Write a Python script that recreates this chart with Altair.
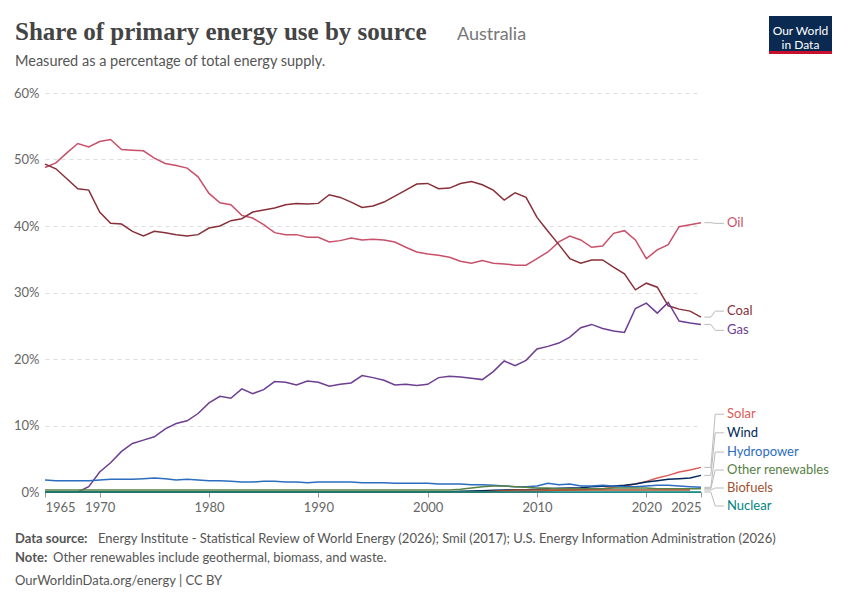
import altair as alt
import pandas as pd

years = list(range(1965, 2026))

oil = [48.8, 49.5, 51.0, 52.4, 51.9, 52.7, 53.0, 51.5, 51.4, 51.3, 50.2, 49.4, 49.1, 48.7, 47.4,
       44.9, 43.5, 43.2, 41.6, 41.2, 40.2, 39.0, 38.7, 38.7, 38.3, 38.3, 37.6, 37.8, 38.2, 37.9,
       38.0, 37.9, 37.6, 36.8, 36.1, 35.8, 35.6, 35.3, 34.7, 34.4, 34.8, 34.4, 34.3, 34.1, 34.1,
       35.1, 36.1, 37.6, 38.5, 37.9, 36.8, 37.0, 38.9, 39.3, 37.9, 35.1, 36.4, 37.2, 39.9, 40.2, 40.5]
coal = [49.3, 48.6, 47.1, 45.6, 45.4, 42.1, 40.4, 40.3, 39.2, 38.5, 39.2, 39.0, 38.7, 38.5, 38.7,
        39.7, 40.0, 40.8, 41.1, 42.1, 42.4, 42.7, 43.2, 43.4, 43.3, 43.4, 44.7, 44.3, 43.6, 42.8,
        43.0, 43.6, 44.5, 45.4, 46.3, 46.4, 45.6, 45.7, 46.4, 46.7, 46.2, 45.4, 43.9, 45.0, 44.3,
        41.3, 39.2, 37.2, 35.1, 34.4, 34.9, 34.9, 33.8, 32.8, 30.4, 31.4, 30.8, 28.0, 27.5, 27.2, 26.3]
gas = [0, 0, 0, 0, 0.8, 3.0, 4.4, 6.1, 7.3, 7.8, 8.3, 9.5, 10.3, 10.7, 11.8,
       13.4, 14.4, 14.1, 15.5, 14.8, 15.4, 16.6, 16.5, 16.1, 16.7, 16.5, 15.9, 16.2, 16.4, 17.5,
       17.2, 16.8, 16.1, 16.2, 16.0, 16.2, 17.2, 17.4, 17.3, 17.1, 16.9, 18.1, 19.7, 19.0, 19.8,
       21.5, 21.9, 22.4, 23.3, 24.7, 25.2, 24.6, 24.2, 24.0, 27.6, 28.4, 26.9, 28.5, 25.7, 25.4, 25.2]
hydro = [1.8, 1.7, 1.7, 1.7, 1.7, 1.8, 1.9, 1.9, 1.9, 2.0, 2.1, 2.0, 1.8, 1.9, 1.8,
         1.7, 1.7, 1.6, 1.5, 1.5, 1.6, 1.6, 1.5, 1.5, 1.4, 1.5, 1.5, 1.5, 1.5, 1.4,
         1.4, 1.4, 1.3, 1.3, 1.3, 1.3, 1.2, 1.2, 1.2, 1.1, 1.1, 1.0, 0.9, 0.8, 0.8,
         0.9, 1.3, 1.1, 1.2, 0.9, 0.9, 1.0, 0.9, 0.8, 0.8, 0.9, 1.0, 1.0, 0.9, 0.8, 0.7]
other = [0.3] * 38 + [0.4, 0.6, 0.8, 0.9, 0.9, 0.8, 0.7, 0.6, 0.6, 0.5, 0.5, 0.5, 0.5, 0.5,
                      0.6, 0.6, 0.6, 0.6, 0.5, 0.5, 0.5, 0.5, 0.5]
biofuels = [0] * 41 + [0.1, 0.2, 0.3, 0.3, 0.3, 0.3, 0.3, 0.3, 0.3, 0.3, 0.3, 0.3, 0.3, 0.3,
                       0.3, 0.3, 0.3, 0.3, 0.3]
solar = [0] * 44 + [0.05, 0.1, 0.2, 0.25, 0.3, 0.35, 0.4, 0.5, 0.7, 0.9, 1.2, 1.6, 2.1, 2.5,
                    3.0, 3.3, 3.7]
wind = [0] * 36 + [0.02, 0.05, 0.1, 0.15, 0.2, 0.25, 0.3, 0.35, 0.35, 0.4, 0.5, 0.55, 0.6, 0.65,
                   0.8, 0.85, 0.9, 1.0, 1.2, 1.5, 1.7, 1.9, 2.0, 2.1, 2.5]
nuclear = [0] * 61

sources = ["Oil", "Coal", "Gas", "Solar", "Wind", "Hydropower", "Other renewables", "Biofuels", "Nuclear"]
series = [oil, coal, gas, solar, wind, hydro, other, biofuels, nuclear]
colors = ["#c8506a", "#883039", "#6d3e91", "#dc5a55", "#00295b", "#2c6dbf", "#578145", "#a2522e", "#00847e"]
label_y = [40.4, 27.2, 24.3, 11.7, 8.9, 6.0, 3.3, 0.6, -2.1]

rows = []
for name, vals in zip(sources, series):
    for yr, v in zip(years, vals):
        rows.append({"year": yr, "source": name, "value": v})
df = pd.DataFrame(rows)

labels = pd.DataFrame({"source": sources, "end": [s[-1] for s in series], "label_y": label_y})
conn = []
for s, e, ly in zip(sources, labels["end"], label_y):
    conn += [{"source": s, "x": 2025.3, "y": e, "o": 0},
             {"source": s, "x": 2025.9, "y": e, "o": 1},
             {"source": s, "x": 2026.3, "y": ly, "o": 2},
             {"source": s, "x": 2027.1, "y": ly, "o": 3}]
conn = pd.DataFrame(conn)

color = alt.Color("source:N", scale=alt.Scale(domain=sources, range=colors), legend=None)
xs = alt.Scale(domain=[1965, 2025], nice=False)
ys = alt.Scale(domain=[0, 60], nice=False)

lines = alt.Chart(df).mark_line(strokeWidth=1.5).encode(
    x=alt.X("year:Q", scale=xs, title=None,
            axis=alt.Axis(values=[1965, 1970, 1980, 1990, 2000, 2010, 2020, 2025], format="d",
                          grid=False, domainColor="#999", tickColor="#999", labelColor="#666",
                          labelFontSize=13, labelFont="Lato", labelPadding=4)),
    y=alt.Y("value:Q", scale=ys, title=None,
            axis=alt.Axis(values=[0, 10, 20, 30, 40, 50, 60], labelExpr="datum.value + '%'",
                          domain=False, ticks=False, gridDash=[4, 4], gridColor="#ddd",
                          labelColor="#666", labelFontSize=13, labelFont="Lato", labelPadding=6)),
    color=color,
)

connectors = alt.Chart(conn).mark_line(color="#bbb", strokeWidth=1).encode(
    x=alt.X("x:Q", scale=xs), y=alt.Y("y:Q", scale=ys), detail="source:N", order="o:Q"
)

texts = alt.Chart(labels).mark_text(align="left", baseline="middle", fontSize=13, font="Lato").encode(
    x=alt.value(682),
    y=alt.Y("label_y:Q", scale=ys),
    text="source:N",
    color=color,
)

hdr = pd.DataFrame({"t": ["x"]})
def txt(s, x, y, size, col, font="Lato", weight="normal"):
    return alt.Chart(hdr).mark_text(align="left", baseline="alphabetic", fontSize=size, color=col,
                                    font=font, fontWeight=weight).encode(
        x=alt.value(x), y=alt.value(y), text=alt.value(s))

title = txt("Share of primary energy use by source", -30, -53, 25, "#444", "Liberation Serif", "bold")
country = txt("Australia", 412, -53, 18, "#777")
sub = txt("Measured as a percentage of total energy supply.", -30, -27, 14.5, "#555")
f1 = txt("Data source:", -30, 450, 13, "#555", weight="bold")
f1b = txt("Energy Institute - Statistical Review of World Energy (2026); Smil (2017); U.S. Energy Information Administration (2026)", 53, 450, 13, "#555")
f2 = txt("Note:", -30, 469, 13, "#555", weight="bold")
f2b = txt("Other renewables include geothermal, biomass, and waste.", 8, 469, 13, "#555")
f3 = txt("OurWorldinData.org/energy | CC BY", -30, 492, 13, "#555")

logo = alt.Chart(hdr).mark_rect(color="#0b2a52").encode(
    x=alt.value(724), x2=alt.value(787), y=alt.value(-77), y2=alt.value(-42))
logo_red = alt.Chart(hdr).mark_rect(color="#c8102e").encode(
    x=alt.value(724), x2=alt.value(787), y=alt.value(-42), y2=alt.value(-39))
logo_t1 = alt.Chart(hdr).mark_text(align="center", fontSize=12, color="white", font="Lato").encode(
    x=alt.value(755.5), y=alt.value(-62), text=alt.value("Our World"))
logo_t2 = alt.Chart(hdr).mark_text(align="center", fontSize=12, color="white", font="Lato").encode(
    x=alt.value(755.5), y=alt.value(-48), text=alt.value("in Data"))

chart = alt.layer(
    lines, connectors, texts, title, country, sub, f1, f1b, f2, f2b, f3, logo, logo_red, logo_t1, logo_t2
).properties(
    width=656, height=399, padding={"left": 5, "top": 8, "right": 5, "bottom": 5}
).configure_view(stroke=None)

chart.save("out.html", embed_options={"renderer": "svg", "actions": False})
